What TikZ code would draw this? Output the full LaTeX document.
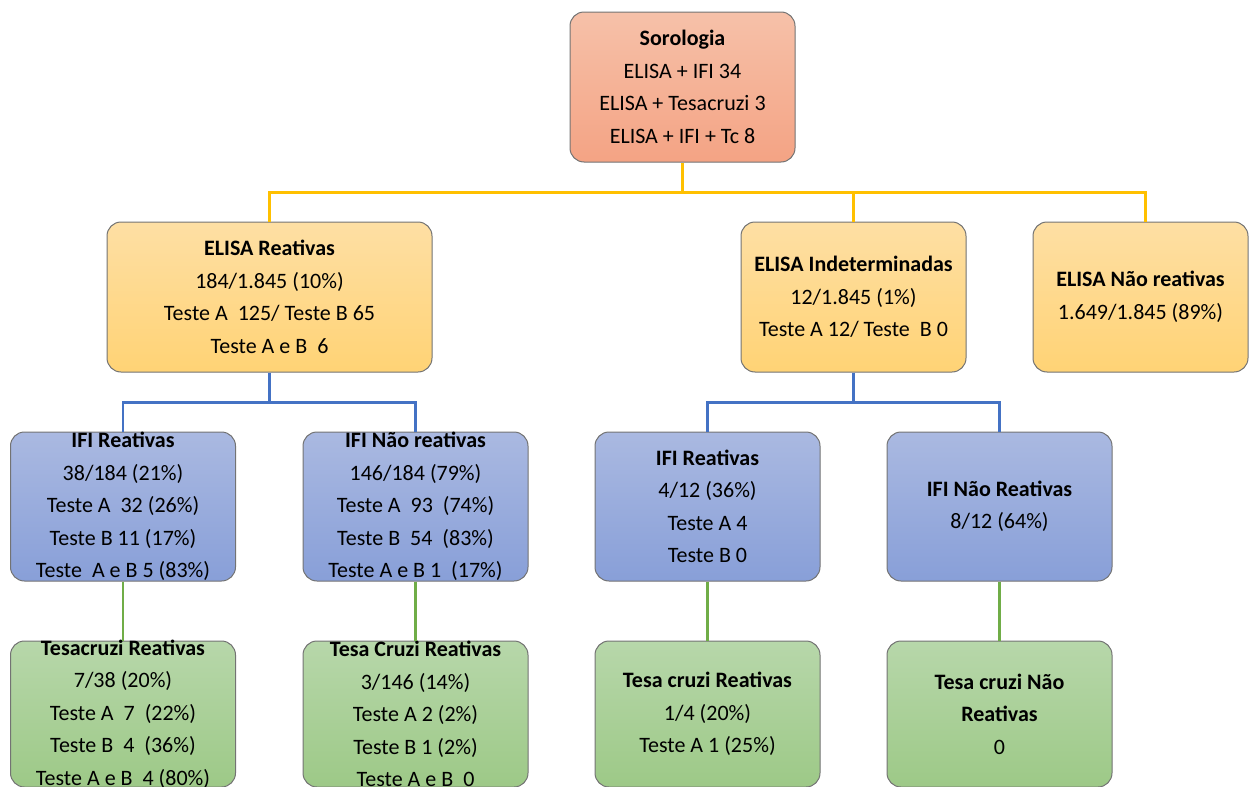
\documentclass[tikz,border=0pt]{standalone}
\usepackage{fontspec}
\setmainfont{Carlito}
\usetikzlibrary{positioning}

\definecolor{soroTop}{HTML}{F6C1A9}
\definecolor{soroBot}{HTML}{F4A384}
\definecolor{elisaTop}{HTML}{FEDFA4}
\definecolor{elisaBot}{HTML}{FFD375}
\definecolor{ifiTop}{HTML}{AAB9E1}
\definecolor{ifiBot}{HTML}{889FD8}
\definecolor{tesaTop}{HTML}{B7D7AA}
\definecolor{tesaBot}{HTML}{9DC987}
\definecolor{lnYellow}{HTML}{FFC000}
\definecolor{lnBlue}{HTML}{4472C4}
\definecolor{lnGreen}{HTML}{70AD47}

\begin{document}
\begin{tikzpicture}[
  x=0.5pt, y=-0.5pt,
  box/.style={rectangle, rounded corners=7pt, draw=black!55, line width=0.5pt,
    minimum width=112.5pt, minimum height=75pt, inner sep=0pt},
  txt/.style={align=center, inner sep=0pt, font=\fontsize{11}{16.25}\selectfont},
  soro/.style={box, top color=soroTop, bottom color=soroBot},
  elisa/.style={box, top color=elisaTop, bottom color=elisaBot},
  ifi/.style={box, top color=ifiTop, bottom color=ifiBot, minimum height=74.5pt},
  tesa/.style={box, top color=tesaTop, bottom color=tesaBot, minimum height=73pt},
  link/.style={line width=1.1pt}
]
\useasboundingbox (0,0) rectangle (1249,787);
\clip (0,0) rectangle (1249,787);

% level 0
\node[soro, label={[txt]center:{\textbf{Sorologia}\\ELISA + IFI 34\\ELISA + Tesacruzi 3\\ELISA + IFI + Tc 8}}] (soro) at (682.5,87) {};

% level 1
\node[elisa, minimum width=162.5pt, label={[txt]center:{\textbf{ELISA Reativas}\\184/1.845 (10\%)\\Teste A\ \ 125/ Teste B 65\\Teste A e B\ \ 6}}] (eliR) at (269.5,297) {};
\node[elisa, label={[txt]center:{\textbf{ELISA Indeterminadas}\\12/1.845 (1\%)\\Teste A 12/ Teste\ \ B 0}}] (eliI) at (853.5,297) {};
\node[elisa, minimum width=107.5pt, label={[txt]center:{\textbf{ELISA Não reativas}\\1.649/1.845 (89\%)}}] (eliN) at (1140.5,297) {};

% level 2
\node[ifi, label={[txt]center:{\textbf{IFI Reativas}\\38/184 (21\%)\\Teste A\ \ 32 (26\%)\\Teste B 11 (17\%)\\Teste\ \ A e B 5 (83\%)}}] (ifiR) at (123,506.5) {};
\node[ifi, label={[txt]center:{\textbf{IFI Não reativas}\\146/184 (79\%)\\Teste A\ \ 93\ \ (74\%)\\Teste B\ \ 54\ \ (83\%)\\Teste A e B 1\ \ (17\%)}}] (ifiN) at (415.5,506.5) {};
\node[ifi, label={[txt]center:{\textbf{IFI Reativas}\\4/12 (36\%)\\Teste A 4\\Teste B 0}}] (ifiIR) at (707.5,506.5) {};
\node[ifi, label={[txt]center:{\textbf{IFI Não Reativas}\\8/12 (64\%)}}] (ifiIN) at (999.5,506.5) {};

% level 3
\node[tesa, label={[txt]center:{\textbf{Tesacruzi Reativas}\\7/38 (20\%)\\Teste A\ \ 7\ \ (22\%)\\Teste B\ \ 4\ \ (36\%)\\Teste A e B\ \ 4 (80\%)}}] (tcR) at (123,714) {};
\node[tesa, label={[txt]center:{\textbf{Tesa Cruzi Reativas}\\3/146 (14\%)\\Teste A 2 (2\%)\\Teste B 1 (2\%)\\Teste A e B\ \ 0}}] (tcN) at (415.5,714) {};
\node[tesa, label={[txt]center:{\textbf{Tesa cruzi Reativas}\\1/4 (20\%)\\Teste A 1 (25\%)}}] (tcIR) at (707.5,714) {};
\node[tesa, label={[txt]center:{\textbf{Tesa cruzi Não}\\\textbf{Reativas}\\0}}] (tcIN) at (999.5,714) {};

% connectors
\draw[link, lnYellow] (soro.south) -- ++(0,30) coordinate (ybus);
\draw[link, lnYellow] (ybus) -| (eliR.north);
\draw[link, lnYellow] (ybus) -| (eliI.north);
\draw[link, lnYellow] (ybus) -| ([xshift=2.5pt]eliN.north);

\draw[link, lnBlue] (eliR.south) -- ++(0,30) coordinate (bbusL);
\draw[link, lnBlue] (bbusL) -| (ifiR.north);
\draw[link, lnBlue] (bbusL) -| (ifiN.north);
\draw[link, lnBlue] (eliI.south) -- ++(0,30) coordinate (bbusR);
\draw[link, lnBlue] (bbusR) -| (ifiIR.north);
\draw[link, lnBlue] (bbusR) -| (ifiIN.north);

\draw[link, lnGreen] (ifiR) -- (tcR);
\draw[link, lnGreen] (ifiN) -- (tcN);
\draw[link, lnGreen] (ifiIR) -- (tcIR);
\draw[link, lnGreen] (ifiIN) -- (tcIN);
\end{tikzpicture}
\end{document}
